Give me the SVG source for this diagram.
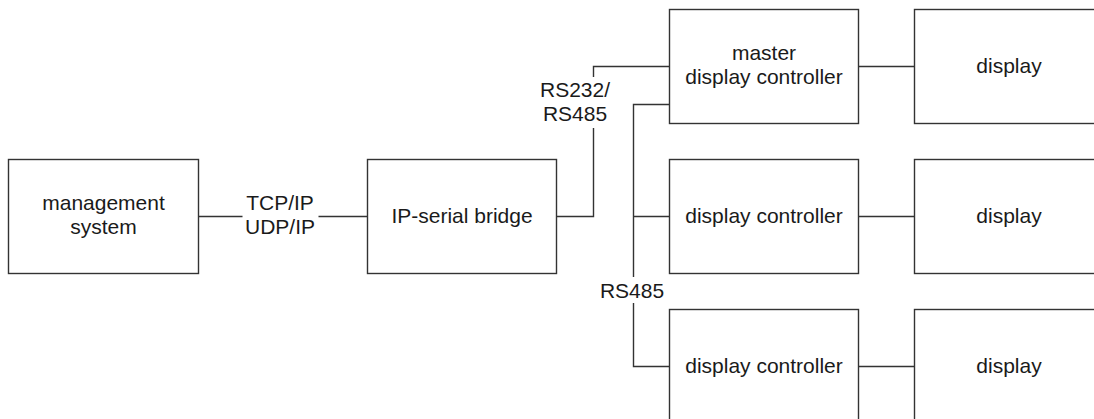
<svg xmlns="http://www.w3.org/2000/svg" width="1094" height="419" viewBox="0 0 1094 419">
  <style>
    .box { fill: #ffffff; stroke: #333333; stroke-width: 1.4; }
    .wire { fill: none; stroke: #333333; stroke-width: 1.4; }
    text { font-family: "Liberation Sans", Arial, sans-serif; font-size: 21px; fill: #1a1a1a; text-anchor: middle; }
  </style>
  <rect width="1094" height="419" fill="#ffffff"/>

  <g id="connectors">
    <!-- management system to bridge -->
    <path class="wire" d="M198.5 216.5 H242.5 M318.5 216.5 H367.5"/>
    <!-- bridge to master controller -->
    <path class="wire" d="M556.5 216.5 H593.5 V128 M593.5 77 V66.5 H669.5"/>
    <!-- RS485 bus from master controller -->
    <path class="wire" d="M669.5 104.5 H633.5 V277 M633.5 303 V366.5 H669.5 M633.5 216.5 H669.5"/>
    <!-- controllers to displays -->
    <path class="wire" d="M858.5 66.5 H914.5 M858.5 216.5 H914.5 M858.5 366.5 H914.5"/>
    <text x="280" y="210">TCP/IP</text>
    <text x="280" y="234">UDP/IP</text>
    <text x="575" y="97">RS232/</text>
    <text x="575" y="121">RS485</text>
    <text x="632" y="298">RS485</text>
  </g>

  <g id="management">
    <rect class="box" x="8.5" y="159.5" width="190" height="114"/>
    <text x="103.5" y="210">management</text>
    <text x="103.5" y="234">system</text>
  </g>
  <g id="bridge">
    <rect class="box" x="367.5" y="159.5" width="189" height="114"/>
    <text x="462" y="223">IP-serial bridge</text>
  </g>
  <g id="master-controller">
    <rect class="box" x="669.5" y="9.5" width="189" height="114"/>
    <text x="764" y="60">master</text>
    <text x="764" y="84">display controller</text>
  </g>
  <g id="controller-2">
    <rect class="box" x="669.5" y="159.5" width="189" height="114"/>
    <text x="764" y="223">display controller</text>
  </g>
  <g id="controller-3">
    <rect class="box" x="669.5" y="309.5" width="189" height="114"/>
    <text x="764" y="373">display controller</text>
  </g>
  <g id="display-1">
    <rect class="box" x="914.5" y="9.5" width="190" height="114"/>
    <text x="1009" y="73">display</text>
  </g>
  <g id="display-2">
    <rect class="box" x="914.5" y="159.5" width="190" height="114"/>
    <text x="1009" y="223">display</text>
  </g>
  <g id="display-3">
    <rect class="box" x="914.5" y="309.5" width="190" height="114"/>
    <text x="1009" y="373">display</text>
  </g>
</svg>
